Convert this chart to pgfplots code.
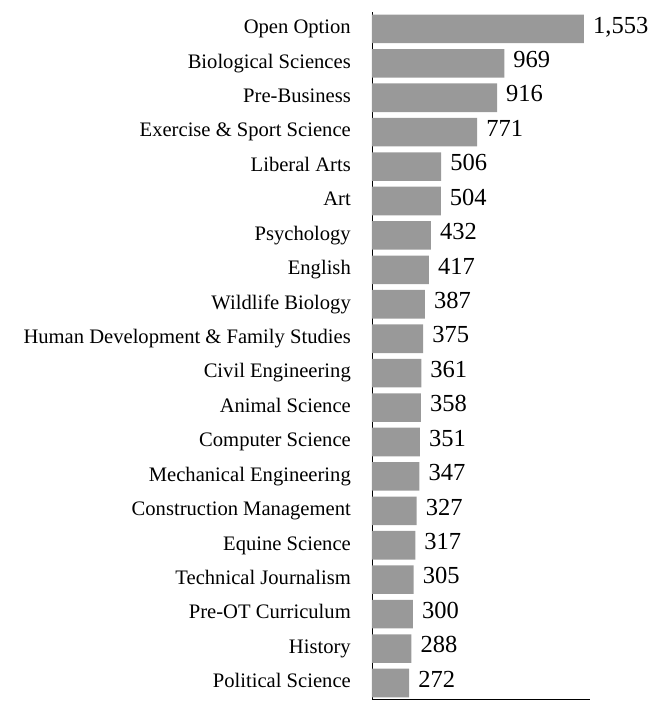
\documentclass[border=0pt]{standalone}
\usepackage{pgfplots}
\pgfplotsset{compat=1.18}
\usepackage{fontspec}
\setmainfont{Liberation Serif}
\definecolor{bargray}{RGB}{153,153,153}
\newcommand{\valfont}{\fontsize{24.5bp}{28bp}\selectfont}
\begin{document}
\begin{tikzpicture}
\begin{axis}[
  scale only axis,
  width=218.4bp, height=687bp,
  xbar, bar width=0.83,
  xmin=0, xmax=1600,
  ymin=-0.465, ymax=19.49,
  axis x line*=bottom, axis y line*=left,
  axis line style={black, line width=0.8bp},
  xtick=\empty,
  ytick={0,...,19},
  yticklabels={Political Science,History,Pre-OT Curriculum,Technical Journalism,Equine Science,Construction Management\hspace{3bp},Mechanical Engineering\hspace{2bp},Computer Science,Animal Science,Civil Engineering,Human Development \& Family Studies\hspace{4bp},Wildlife Biology,English,Psychology,Art,Liberal Arts,Exercise \& Sport Science\hspace{3bp},Pre-Business,Biological Sciences,Open Option},
  major tick length=0pt,
  yticklabel style={font=\fontsize{20.6bp}{24bp}\selectfont, anchor=east, inner sep=0pt, xshift=-21bp, yshift=-1.5bp, text height=0.66em, text depth=0pt},
  /pgf/number format/assume math mode=true,
  /pgf/number format/1000 sep={,},
  nodes near coords={\valfont\pgfmathprintnumber{\pgfplotspointmeta}},
  every node near coord/.append style={font=\valfont, anchor=west, inner sep=0pt, xshift=9bp, yshift=4bp, text height=16.5bp, text depth=0pt, black},
  clip=false,
]
\addplot[fill=bargray, draw=none] coordinates {
(272,0) (288,1) (300,2) (305,3) (317,4) (327,5) (347,6) (351,7) (358,8) (361,9)
(375,10) (387,11) (417,12) (432,13) (504,14) (506,15) (771,16) (916,17) (969,18) (1553,19)
};
\end{axis}
\pgfresetboundingbox
\useasboundingbox (-372bp,-9bp) rectangle (281bp,699bp);
\end{tikzpicture}
\end{document}
